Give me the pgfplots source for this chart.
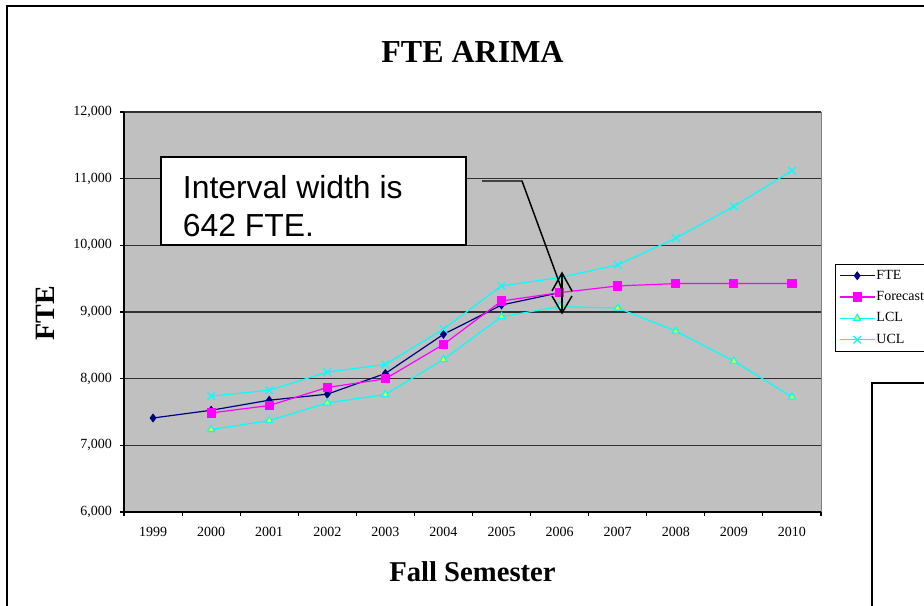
\documentclass[border=0pt]{standalone}
\usepackage{fontspec}
\setmainfont{Liberation Serif}
\newfontfamily\arialfont{Liberation Sans}
\usepackage{pgfplots}
\pgfplotsset{compat=1.18}
\definecolor{plotgray}{HTML}{C0C0C0}
\definecolor{ftenavy}{HTML}{000080}
\definecolor{fcmag}{HTML}{FF00FF}
\definecolor{clcyan}{HTML}{00FFFF}
\definecolor{lclyellow}{HTML}{FFFF00}
\definecolor{gridc}{HTML}{303030}
\begin{document}
\begin{tikzpicture}[x=0.75pt,y=0.75pt]
\useasboundingbox (0,0) rectangle (924,606);
% outer chart frame
\draw[line width=1.1pt] (7,-10) -- (7,600) -- (940,600);
\begin{axis}[
  at={(93pt,70.5pt)}, anchor=south west, scale only axis,
  width=522.75pt, height=300pt,
  xmin=-0.5, xmax=11.5, ymin=6000, ymax=12000,
  axis background/.style={fill=plotgray, draw=gray},
  axis x line*=bottom, axis y line*=left,
  axis line style={black, line width=0.8pt},
  xtick={-0.5,0.5,1.5,2.5,3.5,4.5,5.5,6.5,7.5,8.5,9.5,10.5,11.5},
  x tick label as interval,
  xticklabels={1999,2000,2001,2002,2003,2004,2005,2006,2007,2008,2009,2010},
  ytick={6000,7000,8000,9000,10000,11000,12000},
  scaled y ticks=false,
  tick align=outside, major tick length=3pt,
  tick style={black, line width=0.8pt},
  ymajorgrids, major grid style={gridc, line width=0.8pt},
  /pgf/number format/assume math mode=true,
  /pgf/number format/1000 sep={,},
  ticklabel style={font=\fontsize{10.5}{12}\selectfont},
  xticklabel style={yshift=-5pt},
  yticklabel style={xshift=-2.5pt},
  title={FTE ARIMA},
  title style={at={(axis description cs:0.5,1.104)}, anchor=base, font=\fontsize{24}{28}\selectfont\bfseries},
  xlabel={Fall Semester},
  xlabel style={at={(axis description cs:0.5,-0.174)}, anchor=base, font=\fontsize{21.5}{25}\selectfont\bfseries},
  ylabel={FTE},
  ylabel style={at={(axis description cs:-0.1133,0.4975)}, anchor=center, font=\fontsize{21}{25}\selectfont\bfseries},
  legend style={at={(axis description cs:1.0201,0.62)}, anchor=north west, draw=black, fill=white,
    font=\fontsize{10.5}{12}\selectfont, inner sep=3pt, row sep=4.8pt,
    nodes={text height=7.2pt, text depth=2pt, inner sep=1pt}},
  legend cell align=left,
  legend image code/.code={\draw[mark repeat=2,mark phase=2,#1] plot coordinates {(0pt,0pt) (13pt,0pt) (26pt,0pt)};},
  clip=false,
]
\addplot[color=ftenavy, line width=0.9pt, mark=diamond*, mark size=2.7pt, mark options={fill=ftenavy, solid}]
  coordinates {(0,7410) (1,7526) (2,7677) (3,7767) (4,8078) (5,8665) (6,9105) (7,9290)};
\addlegendentry{FTE}
\addplot[color=fcmag, line width=0.9pt, mark=square*, mark size=3pt, mark options={fill=fcmag, solid}]
  coordinates {(1,7486) (2,7597) (3,7868) (4,7997) (5,8514) (6,9165) (7,9290) (8,9391) (9,9426) (10,9426) (11,9426)};
\addlegendentry{Forecast}
\addplot[color=clcyan, line width=0.9pt, mark=triangle*, mark size=3pt, mark options={fill=lclyellow, draw=clcyan, solid}]
  coordinates {(1,7236) (2,7371) (3,7636) (4,7762) (5,8288) (6,8930) (7,9080) (8,9060) (9,8714) (10,8263) (11,7726)};
\addlegendentry{LCL}
\addplot[color=clcyan, line width=0.9pt, mark=x, mark size=4pt, mark options={solid}]
  coordinates {(1,7737) (2,7827) (3,8098) (4,8213) (5,8744) (6,9391) (7,9516) (8,9707) (9,10108) (10,10584) (11,11120)};
\addlegendentry{UCL}
\end{axis}
% annotation callout
\draw[line width=1.1pt, fill=white] (161,449) rectangle (466,361);
\node[anchor=base west, inner sep=0pt, font=\arialfont\fontsize{23.9}{28}\selectfont] at (182.7,407) {Interval width is};
\node[anchor=base west, inner sep=0pt, font=\arialfont\fontsize{23.9}{28}\selectfont] at (182.7,369) {642 FTE.};
\draw[line width=1.1pt] (482,425) -- (522,425) -- (562,316);
\draw[line width=1.1pt] (562,333) -- (562,293);
\draw[line width=1.1pt] (552,315) -- (562,333) -- (572,315);
\draw[line width=1.1pt] (552,310) -- (562,293) -- (572,310);
% bottom-right box
\draw[line width=1.1pt, fill=white] (872,223) rectangle (940,-10);
\end{tikzpicture}
\end{document}
